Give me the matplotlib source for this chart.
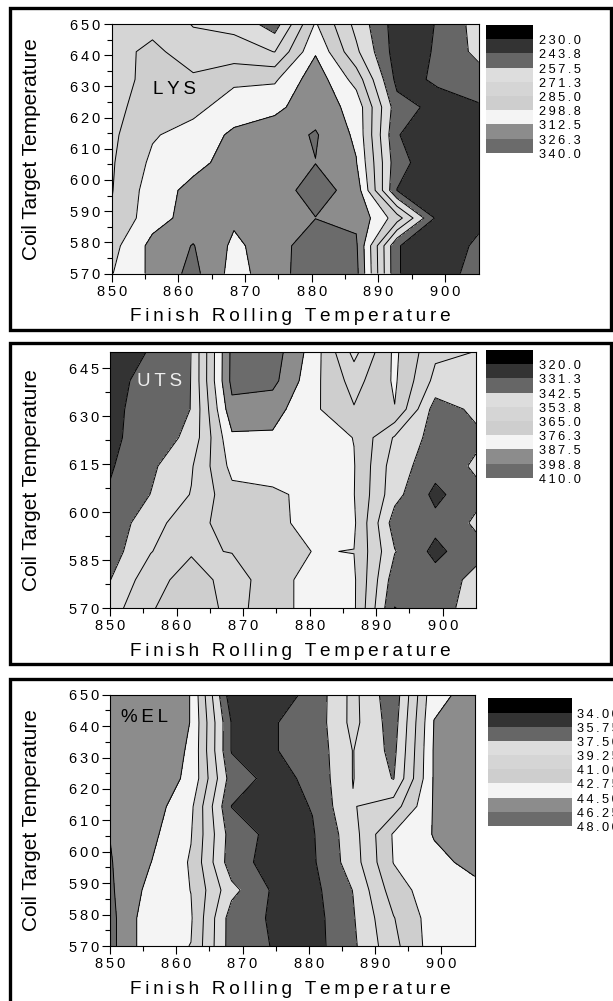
"""Contour maps of LYS, UTS and %EL over finish rolling / coil target temperature."""
import numpy as np
import matplotlib
matplotlib.use("Agg")
import matplotlib.pyplot as plt
from matplotlib.patches import Rectangle

plt.rcParams["font.family"] = ["Liberation Sans", "DejaVu Sans"]

W, H = 613, 1001

# grid of the measured surface (columns = finish rolling T, rows = coil target T)
FRT = np.linspace(850, 905, 10)
CTT = np.linspace(570, 650, 10)

BAND_COLORS = ["#000000", "#333333", "#666666", "#dddddd", "#d5d5d5",
               "#cecece", "#f4f4f4", "#8c8c8c", "#6b6b6b"]

LYS_LEVELS = [230.0, 243.75, 257.5, 271.25, 285.0, 298.75, 312.5, 326.25, 340.0]
LYS_LABELS = ["230.0", "243.8", "257.5", "271.3", "285.0", "298.8", "312.5", "326.3", "340.0"]
LYS = np.array([
    [298.1, 315.7, 330.4, 307.0, 320.5, 335.3, 330.4, 244.4, 236.9, 249.3],
    [293.9, 316.6, 326.9, 309.8, 319.4, 335.9, 328.3, 244.4, 236.9, 245.8],
    [286.2, 307.0, 318.0, 314.7, 319.4, 326.0, 323.5, 291.9, 239.6, 241.0],
    [284.3, 305.6, 316.6, 318.0, 320.3, 331.8, 321.0, 243.5, 236.9, 238.3],
    [283.6, 301.5, 308.4, 318.0, 319.4, 326.0, 313.2, 247.9, 235.5, 238.3],
    [282.3, 297.4, 304.3, 315.0, 319.4, 327.6, 309.8, 244.4, 235.5, 238.3],
    [280.9, 291.9, 294.6, 305.6, 309.5, 320.1, 307.8, 249.3, 239.6, 242.4],
    [279.5, 289.1, 287.8, 296.0, 296.7, 320.8, 293.3, 239.6, 245.4, 250.6],
    [278.8, 289.1, 276.3, 276.8, 271.0, 311.1, 274.0, 236.9, 245.1, 261.6],
    [278.1, 279.5, 270.6, 267.8, 250.6, 300.1, 267.1, 236.9, 244.4, 263.4],
])

UTS_LEVELS = [320.0, 331.25, 342.5, 353.75, 365.0, 376.25, 387.5, 398.75, 410.0]
UTS_LABELS = ["320.0", "331.3", "342.5", "353.8", "365.0", "376.3", "387.5", "398.8", "410.0"]
UTS = np.array([
    [348.5, 364.4, 369.5, 362.8, 368.3, 383.6, 377.9, 331.0, 336.9, 348.1],
    [342.2, 360.7, 369.8, 360.8, 369.8, 382.2, 377.9, 336.2, 335.8, 345.9],
    [337.2, 353.2, 363.9, 365.3, 371.8, 376.5, 376.1, 343.1, 328.3, 338.8],
    [333.5, 350.8, 358.3, 372.9, 371.8, 381.9, 377.9, 336.9, 334.6, 344.2],
    [332.4, 342.7, 354.3, 372.9, 374.2, 379.4, 376.5, 346.4, 328.3, 339.7],
    [330.1, 340.3, 352.6, 379.6, 381.9, 381.9, 376.8, 347.8, 335.8, 344.2],
    [329.6, 335.0, 345.9, 385.4, 385.9, 381.9, 376.0, 352.5, 338.0, 340.3],
    [326.8, 339.1, 342.6, 395.4, 391.9, 378.5, 365.8, 375.9, 337.2, 344.8],
    [325.6, 337.1, 342.6, 402.1, 402.1, 379.7, 360.5, 377.9, 350.4, 349.3],
    [325.6, 332.0, 342.6, 401.7, 404.5, 382.4, 350.4, 378.5, 356.0, 353.5],
])

EL_LEVELS = [34.0, 35.75, 37.5, 39.25, 41.0, 42.75, 44.5, 46.25, 48.0]
EL_LABELS = ["34.00", "35.75", "37.50", "39.25", "41.00", "42.75", "44.50", "46.25", "48.00"]
EL = np.array([
    [46.81, 43.31, 42.72, 36.63, 35.70, 35.05, 37.15, 40.48, 43.63, 43.63],
    [46.81, 43.31, 42.93, 36.63, 35.58, 35.05, 37.33, 40.91, 43.63, 43.80],
    [46.53, 43.96, 42.72, 38.03, 35.58, 35.23, 37.54, 41.88, 43.80, 44.15],
    [46.37, 44.54, 42.58, 36.45, 35.16, 35.49, 38.38, 42.80, 44.15, 44.85],
    [46.22, 44.94, 42.84, 36.63, 35.31, 35.58, 38.55, 42.93, 44.59, 45.20],
    [45.73, 45.38, 43.14, 35.72, 34.88, 35.84, 39.16, 40.13, 44.68, 45.38],
    [45.73, 45.38, 44.19, 36.63, 35.21, 36.10, 39.30, 37.41, 44.68, 45.38],
    [45.73, 45.38, 44.34, 35.66, 35.65, 36.28, 39.30, 36.98, 44.68, 45.38],
    [45.73, 45.38, 44.47, 35.66, 35.65, 36.28, 39.78, 36.63, 44.54, 45.38],
    [45.73, 45.38, 44.47, 34.53, 34.88, 36.21, 39.78, 36.28, 44.15, 44.94],
])

XTICKS = [850, 860, 870, 880, 890, 900]
YTICKS_10 = [570, 580, 590, 600, 610, 620, 630, 640, 650]
YTICKS_15 = [570, 585, 600, 615, 630, 645]


def spaced(s):
    # the original draws its labels with wide letter spacing
    return "\u2009".join(s)


def fig_rect(x0, y0, x1, y1):
    """Pixel box (top-left origin) -> figure fraction rect."""
    return [x0 / W, 1 - y1 / H, (x1 - x0) / W, (y1 - y0) / H]


def panel(fig, box, z, levels, name, name_xy, name_color, yticks, yminor):
    ax = fig.add_axes(fig_rect(*box))
    ax.contourf(FRT, CTT, z, levels=[levels[0] - 1000] + list(levels),
                colors=BAND_COLORS)
    ax.contour(FRT, CTT, z, levels=levels, colors="black", linewidths=0.7)
    ax.set_xlim(850, 905)
    ax.set_ylim(570, 650)
    ax.set_xticks(XTICKS, [spaced(str(t)) for t in XTICKS])
    ax.set_xticks(np.arange(855, 905, 10), minor=True)
    ax.set_yticks(yticks, [spaced(str(t)) for t in yticks])
    ax.set_yticks(yminor, minor=True)
    ax.tick_params(which="major", direction="out", length=6, width=0.8,
                   labelsize=10.5, pad=2)
    ax.tick_params(which="minor", direction="out", length=3.5, width=0.8)
    for sp in ax.spines.values():
        sp.set_linewidth(0.8)

    x0, y0, x1, y1 = box
    ax.set_xlabel(spaced("Finish Rolling Temperature"), fontsize=13.7)
    ax.xaxis.set_label_coords((290 - x0) / (x1 - x0), -43 / (y1 - y0))
    ax.xaxis.label.set_va("center")
    ax.set_ylabel("Coil Target Temperature", fontsize=15)
    ax.yaxis.set_label_coords((32 - x0) / (x1 - x0), 0.5)
    ax.yaxis.label.set_va("center")
    ax.text(*name_xy, spaced(name), fontsize=13.5, color=name_color,
            ha="center", va="center")
    return ax


def legend(fig, x0, x1, top, labels, text_x):
    h = 14.2
    for i, c in enumerate(BAND_COLORS):
        fig.add_artist(Rectangle((x0 / W, 1 - (top + (i + 1) * h) / H),
                                 (x1 - x0) / W, h / H, transform=fig.transFigure,
                                 facecolor=c, edgecolor="none"))
    for i, lab in enumerate(labels):
        fig.text(text_x / W, 1 - (top + (i + 1) * h + 2) / H, spaced(lab),
                 fontsize=9.2, ha="left", va="center")


def frame(fig, x0, y0, x1, y1):
    fig.add_artist(Rectangle((x0 / W, 1 - y1 / H), (x1 - x0) / W, (y1 - y0) / H,
                             transform=fig.transFigure, fill=False,
                             edgecolor="black", linewidth=2.4))


def main():
    fig = plt.figure(figsize=(W / 100, H / 100), dpi=100)
    fig.patch.set_facecolor("white")

    frame(fig, 10, 8, 611, 330)
    frame(fig, 10, 343, 611, 664)
    frame(fig, 10, 679, 660, 1060)

    panel(fig, (111.7, 24, 478.5, 273.5), LYS, LYS_LEVELS, "LYS", (859.4, 629),
          "black", YTICKS_10, np.arange(575, 650, 10))
    panel(fig, (110, 352.3, 476, 608.3), UTS, UTS_LEVELS, "UTS", (857.5, 641),
          "#eeeeee", YTICKS_15, np.arange(577.5, 650, 15))
    panel(fig, (110, 694.7, 474.5, 946), EL, EL_LEVELS, "%EL", (855.2, 642.8),
          "black", YTICKS_10, np.arange(575, 650, 10))

    legend(fig, 486, 533, 25, LYS_LABELS, 539)
    legend(fig, 486, 533, 350, UTS_LABELS, 539)
    legend(fig, 488, 572, 698.3, EL_LABELS, 577)

    fig.savefig("out.png", dpi=100)


if __name__ == "__main__":
    main()
